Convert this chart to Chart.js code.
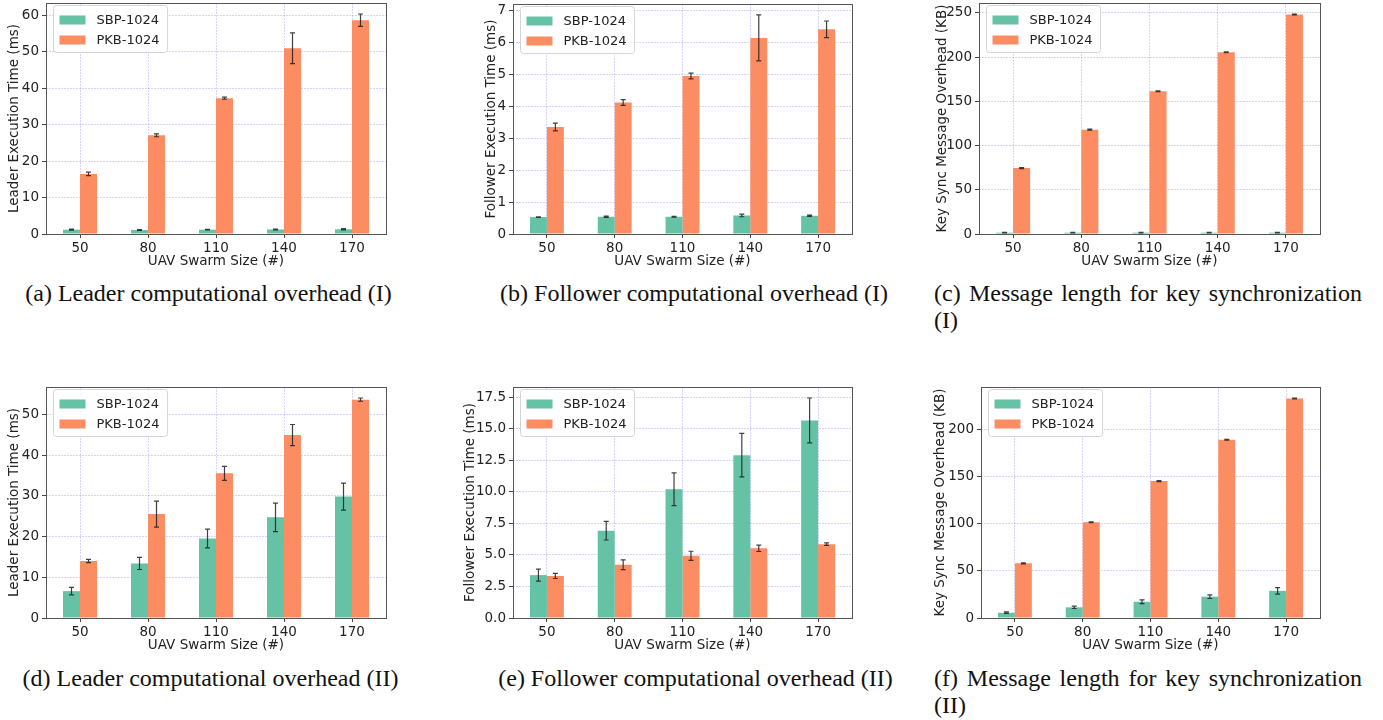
<!DOCTYPE html>
<html lang="en">
<head>
    <meta charset="UTF-8">
    <title>UAV Swarm Overhead</title>
    <script src="https://cdn.jsdelivr.net/npm/chart.js"></script>
    <style>
        body { margin: 0; background: #fff; width: 1383px; height: 720px; overflow: hidden; position: relative; }
        canvas { position: absolute; }
        .cap { position: absolute; font-family: "Liberation Serif", "DejaVu Serif", serif; font-size: 24px; line-height: 27px; color: #111; }
        .just { text-align: justify; }
    </style>
</head>
<body>

<canvas id="chartA"></canvas>
<canvas id="chartB"></canvas>
<canvas id="chartC"></canvas>
<canvas id="chartD"></canvas>
<canvas id="chartE"></canvas>
<canvas id="chartF"></canvas>

<div class="cap" style="left:0;width:417px;top:280px;text-align:center">(a) Leader computational overhead (I)</div>
<div class="cap" style="left:494px;width:400px;top:280px;text-align:center">(b) Follower computational overhead (I)</div>
<div class="cap just" style="left:934px;width:428px;top:280px">(c) Message length for key synchronization (I)</div>
<div class="cap" style="left:0;width:421px;top:665px;text-align:center">(d) Leader computational overhead (II)</div>
<div class="cap" style="left:495px;width:401px;top:665px;text-align:center">(e) Follower computational overhead (II)</div>
<div class="cap just" style="left:934px;width:428px;top:665px">(f) Message length for key synchronization (II)</div>

<script>
    // categorias e séries
    const swarmSizes = ['50', '80', '110', '140', '170'];
    const seriesNames = ['SBP-1024', 'PKB-1024'];

    // (a) leader, cenário I
    const leaderSbpI = [1.2, 1.1, 1.2, 1.25, 1.3];
    const leaderSbpIErr = [0.15, 0.1, 0.1, 0.12, 0.15];
    const leaderPkbI = [16.5, 27.1, 37.3, 51.0, 58.7];
    const leaderPkbIErr = [0.5, 0.4, 0.3, 4.2, 1.7];

    // (b) follower, cenário I
    const followerSbpI = [0.53, 0.54, 0.54, 0.58, 0.57];
    const followerSbpIErr = [0.01, 0.02, 0.01, 0.04, 0.02];
    const followerPkbI = [3.35, 4.12, 4.95, 6.14, 6.41];
    const followerPkbIErr = [0.12, 0.09, 0.09, 0.72, 0.26];

    // (c) key sync, cenário I
    const keySbpI = [1.5, 1.5, 1.5, 1.5, 1.5];
    const keySbpIErr = [0.3, 0.3, 0.3, 0.3, 0.3];
    const keyPkbI = [74.5, 118, 161.5, 205.5, 248.3];
    const keyPkbIErr = [0.5, 0.5, 0.5, 0.5, 0.5];

    // (d) leader, cenário II
    const leaderSbpII = [6.6, 13.4, 19.5, 24.7, 29.8];
    const leaderSbpIIErr = [0.9, 1.5, 2.3, 3.5, 3.3];
    const leaderPkbII = [14.0, 25.5, 35.5, 44.9, 53.6];
    const leaderPkbIIErr = [0.4, 3.2, 1.7, 2.6, 0.4];

    // (e) follower, cenário II
    const followerSbpII = [3.4, 6.92, 10.2, 12.9, 15.65];
    const followerSbpIIErr = [0.48, 0.74, 1.3, 1.72, 1.78];
    const followerPkbII = [3.33, 4.22, 4.93, 5.52, 5.85];
    const followerPkbIIErr = [0.2, 0.38, 0.36, 0.25, 0.1];

    // (f) key sync, cenário II
    const keySbpII = [5.6, 11.3, 17.2, 22.6, 28.8];
    const keySbpIIErr = [0.8, 1.2, 2.0, 1.9, 3.5];
    const keyPkbII = [58, 101.5, 145.2, 189, 232.8];
    const keyPkbIIErr = [0.5, 0.5, 0.5, 0.5, 0.5];

    const textColor = '#222';
    const gridColor = 'rgba(0, 0, 255, 0.17)';
    const fontFamily = '"DejaVu Sans", sans-serif';
    const fontSize = 13.5;

    // barras de erro
    const errorBars = {
        id: 'errorBars',
        afterDatasetsDraw(chart) {
            const ctx = chart.ctx;
            const y = chart.scales.y;
            ctx.save();
            ctx.strokeStyle = 'rgba(30, 30, 30, 0.85)';
            ctx.lineWidth = 1.2;
            chart.data.datasets.forEach((ds, i) => {
                const meta = chart.getDatasetMeta(i);
                meta.data.forEach((bar, j) => {
                    const v = ds.data[j];
                    const e = ds.errors[j];
                    const yTop = y.getPixelForValue(v + e);
                    const yBot = y.getPixelForValue(v - e);
                    ctx.beginPath();
                    ctx.moveTo(bar.x, yTop);
                    ctx.lineTo(bar.x, yBot);
                    ctx.moveTo(bar.x - 2.5, yTop);
                    ctx.lineTo(bar.x + 2.5, yTop);
                    ctx.moveTo(bar.x - 2.5, yBot);
                    ctx.lineTo(bar.x + 2.5, yBot);
                    ctx.stroke();
                });
            });
            ctx.restore();
        }
    };

    // moldura do gráfico (4 lados)
    const frame = {
        id: 'frame',
        afterDatasetsDraw(chart) {
            const a = chart.chartArea;
            const ctx = chart.ctx;
            ctx.save();
            ctx.strokeStyle = '#555';
            ctx.lineWidth = 1;
            ctx.strokeRect(Math.round(a.left) + 0.5, Math.round(a.top) + 0.5,
                Math.round(a.right - a.left), Math.round(a.bottom - a.top));
            ctx.restore();
        }
    };

    // legenda dentro da área do gráfico, canto superior esquerdo
    const boxLegend = {
        id: 'boxLegend',
        afterDraw(chart) {
            const a = chart.chartArea;
            const ctx = chart.ctx;
            ctx.save();
            ctx.font = '13px ' + fontFamily;
            const textW = Math.max(...chart.data.datasets.map(ds => ctx.measureText(ds.label).width));
            const x0 = a.left + 7.5;
            const y0 = a.top + 2.5;
            const w = 43 + textW + 8;
            const h = 47;
            ctx.beginPath();
            ctx.roundRect(x0, y0, w, h, 3);
            ctx.fillStyle = 'rgba(255, 255, 255, 0.85)';
            ctx.fill();
            ctx.strokeStyle = '#d4d4d4';
            ctx.lineWidth = 1;
            ctx.stroke();
            chart.data.datasets.forEach((ds, i) => {
                const py = y0 + 10 + i * 20;
                ctx.fillStyle = ds.backgroundColor;
                ctx.fillRect(x0 + 6, py, 26, 9);
                ctx.fillStyle = textColor;
                ctx.textBaseline = 'middle';
                ctx.fillText(ds.label, x0 + 43, py + 5);
            });
            ctx.restore();
        }
    };

    function makeChart(id, box, yTitle, step, decimals, sbp, sbpErr, pkb, pkbErr) {
        const canvas = document.getElementById(id);
        const left = Math.round(box.titleX - 8);
        const top = box.plotT - 10;
        const width = box.plotR - left + 6;
        const height = box.plotB + 36 - top;
        canvas.width = width;
        canvas.height = height;
        canvas.style.left = left + 'px';
        canvas.style.top = top + 'px';

        const yMax = 1.05 * Math.max(
            ...sbp.map((v, i) => v + sbpErr[i]),
            ...pkb.map((v, i) => v + pkbErr[i])
        );

        new Chart(canvas, {
            type: 'bar',
            data: {
                labels: swarmSizes,
                datasets: [
                    { label: seriesNames[0], data: sbp, errors: sbpErr, backgroundColor: '#66c2a5' },
                    { label: seriesNames[1], data: pkb, errors: pkbErr, backgroundColor: '#fc8d62' }
                ]
            },
            options: {
                responsive: false,
                animation: false,
                layout: { padding: { left: 0, top: 10, right: 6, bottom: 0 } },
                datasets: { bar: { categoryPercentage: 0.5, barPercentage: 1.0 } },
                plugins: { legend: { display: false }, tooltip: { enabled: false } },
                scales: {
                    x: {
                        grid: { offset: false, color: gridColor, tickColor: '#444', tickLength: 4 },
                        border: { display: false, dash: [2, 1] },
                        ticks: { padding: 2, color: textColor, font: { family: fontFamily, size: fontSize } },
                        title: { display: true, text: 'UAV Swarm Size (#)', color: textColor, padding: 0,
                                 font: { family: fontFamily, size: fontSize } },
                        afterFit: s => { s.height = 36; s.paddingLeft = 0; s.paddingRight = 0; }
                    },
                    y: {
                        min: 0,
                        max: yMax,
                        grid: { color: gridColor, tickColor: '#444', tickLength: 4 },
                        border: { display: false, dash: [2, 1] },
                        ticks: {
                            stepSize: step,
                            includeBounds: false,
                            padding: 3,
                            color: textColor,
                            font: { family: fontFamily, size: fontSize },
                            callback: v => v.toFixed(decimals)
                        },
                        title: { display: true, text: yTitle, color: textColor, padding: 0,
                                 font: { family: fontFamily, size: fontSize } },
                        afterFit: s => { s.width = box.plotL - left; s.paddingTop = 0; s.paddingBottom = 0; }
                    }
                }
            },
            plugins: [errorBars, frame, boxLegend]
        });
    }

    makeChart('chartA', { plotL: 46, plotR: 386, plotT: 3, plotB: 234, titleX: 13.5 },
        'Leader Execution Time (ms)', 10, 0, leaderSbpI, leaderSbpIErr, leaderPkbI, leaderPkbIErr);
    makeChart('chartB', { plotL: 513, plotR: 852, plotT: 4, plotB: 234, titleX: 491 },
        'Follower Execution Time (ms)', 1, 0, followerSbpI, followerSbpIErr, followerPkbI, followerPkbIErr);
    makeChart('chartC', { plotL: 979, plotR: 1320, plotT: 3, plotB: 234, titleX: 941.5 },
        'Key Sync Message Overhead (KB)', 50, 0, keySbpI, keySbpIErr, keyPkbI, keyPkbIErr);
    makeChart('chartD', { plotL: 46, plotR: 386, plotT: 387, plotB: 618, titleX: 13.7 },
        'Leader Execution Time (ms)', 10, 0, leaderSbpII, leaderSbpIIErr, leaderPkbII, leaderPkbIIErr);
    makeChart('chartE', { plotL: 513, plotR: 852, plotT: 387, plotB: 618, titleX: 469.5 },
        'Follower Execution Time (ms)', 2.5, 1, followerSbpII, followerSbpIIErr, followerPkbII, followerPkbIIErr);
    makeChart('chartF', { plotL: 981, plotR: 1320, plotT: 387, plotB: 618, titleX: 940.3 },
        'Key Sync Message Overhead (KB)', 50, 0, keySbpII, keySbpIIErr, keyPkbII, keyPkbIIErr);
</script>
</body>
</html>
